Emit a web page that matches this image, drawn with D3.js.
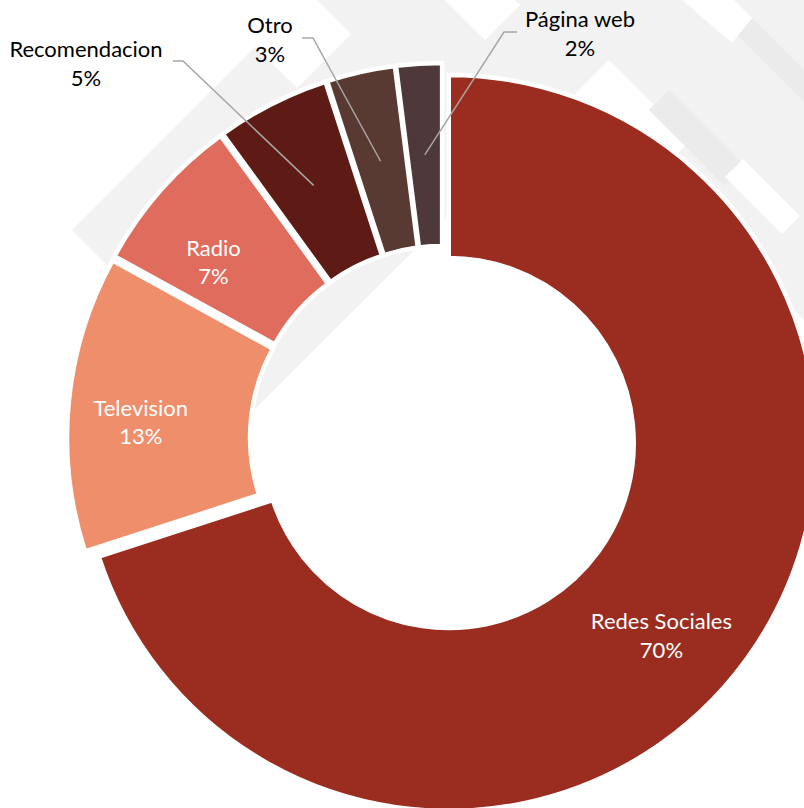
<!DOCTYPE html>
<html><head><meta charset="utf-8">
<script src="https://cdn.jsdelivr.net/npm/d3@7"></script>
<style>body{margin:0;background:#fff} svg{display:block}</style>
</head><body>
<svg id="chart" width="804" height="808"></svg>
<script>
// ---- data ----
const categories = ["Redes Sociales", "Television", "Radio", "Recomendacion", "Otro", "Página web"];
const values = [70, 13, 7, 5, 3, 2];
const percentLabels = ["70%", "13%", "7%", "5%", "3%", "2%"];

// ---- style / layout ----
const colors = ["#9B2D20", "#EF8E6B", "#E06C5E", "#5E1A14", "#593A32", "#4F383A"];
const W = 804, H = 808;
const cx = 442.6, cy = 438.5, R = 368, r = 185, explode = 7.6;
const fontFamily = "Lato, 'Open Sans', sans-serif";
const fontSize = 22;
// label placement: inside labels as offset from centroid; outside labels absolute with leader lines
const labelLayout = [
  {inside: true, dx: -11, dy: 24},
  {inside: true, dx: -19, dy: 4},
  {inside: true, dx: -16, dy: 5},
  {inside: false, x: 86, y: 57, lead: [[173, 61], [183, 61]]},
  {inside: false, x: 270, y: 33, lead: [[302, 38], [313, 38]]},
  {inside: false, x: 580, y: 27, lead: [[517, 32], [504, 32]]}
];
// decorative background
const bgShapes = [
  {fill: "#F2F2F2", pts: [[72,230],[302,0],[665,0],[253,411]]},
  {fill: "#FFFFFF", pts: [[302,0],[255,47],[297,88],[351,34],[317,0]]},
  {fill: "#FFFFFF", pts: [[445,0],[485,40],[520,5],[515,0]]},
  {fill: "#F2F2F2", pts: [[520,0],[804,0],[804,320],[640,160],[560,110]]},
  {fill: "#FFFFFF", pts: [[609,60],[690,141],[609,222],[528,141]]},
  {fill: "#EBEBEB", pts: [[649,110],[725,186],[745,166],[669,90]]},
  {fill: "#FFFFFF", pts: [[725,177],[782,234],[800,216],[743,159]]},
  {fill: "#EBEBEB", pts: [[732,30],[804,102],[804,70],[760,26],[752,18]]},
  {fill: "#FFFFFF", pts: [[682,0],[732,43],[752,18],[734,0]]}
];

const svg = d3.select("#chart");
svg.append("rect").attr("width", W).attr("height", H).attr("fill", "#fff");

svg.append("g").selectAll("polygon").data(bgShapes).join("polygon")
  .attr("points", d => d.pts.map(p => p.join(",")).join(" "))
  .attr("fill", d => d.fill);

const pie = d3.pie().sort(null).value(d => d);
const arcs = pie(values);
const arc = d3.arc().innerRadius(r).outerRadius(R);
const labelArc = d3.arc().innerRadius((R + r) / 2).outerRadius((R + r) / 2);

function offset(d) {
  const m = (d.startAngle + d.endAngle) / 2;
  return [cx + explode * Math.sin(m), cy - explode * Math.cos(m)];
}

const g = svg.append("g");
g.selectAll("path").data(arcs).join("path")
  .attr("transform", d => { const o = offset(d); return `translate(${o[0]},${o[1]})`; })
  .attr("d", arc)
  .attr("fill", (d, i) => colors[i])
  .attr("stroke", "#fff")
  .attr("stroke-width", 4.5)
  .attr("stroke-linejoin", "miter");

// labels
const lg = svg.append("g").attr("font-family", fontFamily).attr("font-size", fontSize);
arcs.forEach((d, i) => {
  const L = labelLayout[i];
  const o = offset(d);
  const c = labelArc.centroid(d);
  const px = o[0] + c[0], py = o[1] + c[1];
  let x, y, color;
  if (L.inside) {
    x = px + L.dx; y = py + L.dy; color = "#fff";
  } else {
    x = L.x; y = L.y; color = "#000";
    const pts = [L.lead[0], L.lead[1], [px, py]];
    lg.append("path")
      .attr("d", d3.line()(pts))
      .attr("fill", "none").attr("stroke", "#A6A6A6").attr("stroke-width", 1.5);
  }
  const t = lg.append("text").attr("text-anchor", "middle").attr("fill", color);
  t.append("tspan").attr("x", x).attr("y", y).text(categories[i]);
  t.append("tspan").attr("x", x).attr("y", y + 28.5).text(percentLabels[i]);
});
</script>
</body></html>
